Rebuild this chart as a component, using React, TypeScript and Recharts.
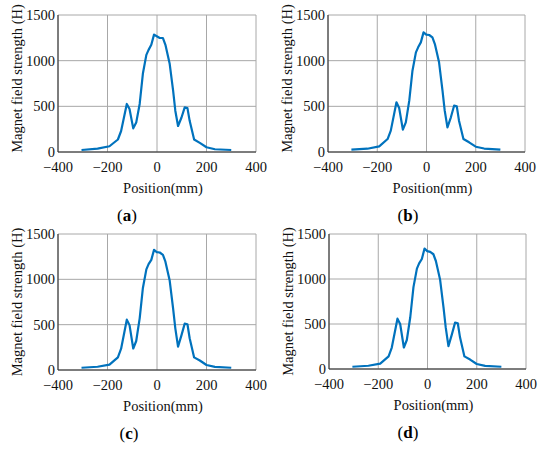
import React from 'react';
import { LineChart, Line, XAxis, YAxis, CartesianGrid, Label } from 'recharts';

const positions = [-305, -240, -192, -158, -145, -122, -111, -96, -84, -70, -57, -43, -34, -23, -12, -1, 11, 24, 34, 51, 65, 74, 85, 99, 112, 123, 132, 150, 173, 200, 234, 300];
const seriesA = [22, 37, 63, 137, 230, 526, 470, 259, 322, 526, 859, 1063, 1118, 1174, 1285, 1267, 1248, 1248, 1174, 970, 674, 452, 285, 378, 489, 481, 341, 137, 100, 52, 30, 22];
const seriesB = [25, 36, 62, 142, 234, 544, 482, 245, 325, 562, 890, 1091, 1146, 1200, 1310, 1285, 1281, 1255, 1182, 982, 672, 453, 270, 380, 507, 500, 343, 142, 106, 58, 38, 25];
const seriesC = [25, 36, 60, 140, 235, 555, 495, 237, 320, 570, 905, 1110, 1168, 1215, 1325, 1300, 1296, 1270, 1195, 990, 680, 460, 258, 385, 511, 505, 350, 139, 105, 55, 35, 25];
const seriesD = [25, 36, 60, 140, 238, 559, 500, 239, 322, 575, 910, 1115, 1173, 1222, 1338, 1310, 1301, 1275, 1200, 995, 685, 462, 254, 385, 515, 508, 352, 140, 105, 56, 35, 25];

const xTicks = [-400, -200, 0, 200, 400];
const yTicks = [0, 500, 1000, 1500];
const panelLetters = ['a', 'b', 'c', 'd'];
const xTitle = 'Position(mm)';
const yTitle = 'Magnet field strength (H)';

const FONT = 'Liberation Serif, Times New Roman, Tinos, serif';
const FS = 14.5;
const fmt = (v: number) => String(v).replace('-', '\u2212');

type Layout = {
  left: number;
  top: number;
  margin: { top: number; right: number; bottom: number; left: number };
  letterDx: number;
  titleDx: number;
  yTitleDy: number;
};

const layouts: Layout[] = [
  { left: 0, top: 0, margin: { top: 15, right: 19, bottom: 43, left: 18 }, letterDx: 69, titleDx: 6, yTitleDy: -5 },
  { left: 270, top: 0, margin: { top: 15, right: 20, bottom: 43, left: 18 }, letterDx: 80, titleDx: 6, yTitleDy: -5 },
  { left: 0, top: 224, margin: { top: 10, right: 19, bottom: 49, left: 18 }, letterDx: 71, titleDx: 6, yTitleDy: 0 },
  { left: 270, top: 224, margin: { top: 10, right: 19, bottom: 50, left: 19 }, letterDx: 79, titleDx: 6, yTitleDy: 0 },
];

const allSeries = [seriesA, seriesB, seriesC, seriesD];

function Panel({ values, letter, layout }: { values: number[]; letter: string; layout: Layout }) {
  const data = positions.map((p, i) => ({ x: p, y: values[i] }));
  const axisColor = '#262626';
  const textStyle = { fontFamily: FONT };
  return (
    <div style={{ position: 'absolute', left: layout.left, top: layout.top, fontFamily: FONT }}>
      <LineChart width={275} height={225} data={data} margin={layout.margin} style={textStyle}>
        <CartesianGrid stroke="#a8a8a8" strokeWidth={1} />
        <XAxis
          dataKey="x"
          type="number"
          domain={[-400, 400]}
          ticks={xTicks}
          tickFormatter={fmt}
          tickLine={false}
          tickSize={0}
          tickMargin={10}
          height={30}
          axisLine={{ stroke: axisColor, strokeWidth: 1 }}
          tick={{ fill: '#111', fontSize: FS, fontFamily: FONT, style: textStyle }}
          allowDataOverflow
        >
          <Label
            content={(props: any) => {
              const vb = props.viewBox;
              return (
                <text
                  x={vb.x + vb.width / 2 + layout.titleDx}
                  y={vb.y + 41}
                  textAnchor="middle"
                  fontSize={FS}
                  style={textStyle}
                  fill="#111"
                >
                  {xTitle}
                </text>
              );
            }}
          />
          <Label
            content={(props: any) => {
              const vb = props.viewBox;
              return (
                <text
                  x={vb.x + layout.letterDx}
                  y={vb.y + 69}
                  textAnchor="middle"
                  fontSize={17}
                  style={textStyle}
                  fill="#000"
                >
                  <tspan>(</tspan>
                  <tspan fontWeight="bold">{letter}</tspan>
                  <tspan>)</tspan>
                </text>
              );
            }}
          />
        </XAxis>
        <XAxis
          xAxisId="top"
          orientation="top"
          dataKey="x"
          type="number"
          domain={[-400, 400]}
          ticks={xTicks}
          tick={false}
          tickLine={false}
          height={0}
          axisLine={{ stroke: axisColor, strokeWidth: 1 }}
        />
        <YAxis
          type="number"
          domain={[0, 1500]}
          ticks={yTicks}
          tickLine={false}
          tickSize={0}
          tickMargin={3}
          width={40}
          axisLine={{ stroke: axisColor, strokeWidth: 1 }}
          tick={{ fill: '#111', fontSize: FS, fontFamily: FONT, style: textStyle }}
        >
          <Label
            content={(props: any) => {
              const vb = props.viewBox;
              const cx = vb.x - 1;
              const cy = vb.y + vb.height / 2 + layout.yTitleDy;
              return (
                <text
                  x={cx}
                  y={cy}
                  transform={`rotate(-90 ${cx} ${cy})`}
                  textAnchor="middle"
                  dominantBaseline="central"
                  fontSize={FS}
                  style={textStyle}
                  fill="#111"
                >
                  {yTitle}
                </text>
              );
            }}
          />
        </YAxis>
        <YAxis
          yAxisId="r"
          orientation="right"
          type="number"
          domain={[0, 1500]}
          ticks={yTicks}
          tick={false}
          tickLine={false}
          width={0}
          axisLine={{ stroke: axisColor, strokeWidth: 1 }}
        />
        <Line
          type="linear"
          dataKey="y"
          stroke="#0072BD"
          strokeWidth={2.2}
          dot={false}
          isAnimationActive={false}
          strokeLinejoin="round"
        />
      </LineChart>
    </div>
  );
}

export default function App() {
  return (
    <div style={{ position: 'absolute', left: 0, top: 0, width: 550, height: 449, background: '#fff' }}>
      {allSeries.map((s, i) => (
        <Panel key={panelLetters[i]} values={s} letter={panelLetters[i]} layout={layouts[i]} />
      ))}
    </div>
  );
}
